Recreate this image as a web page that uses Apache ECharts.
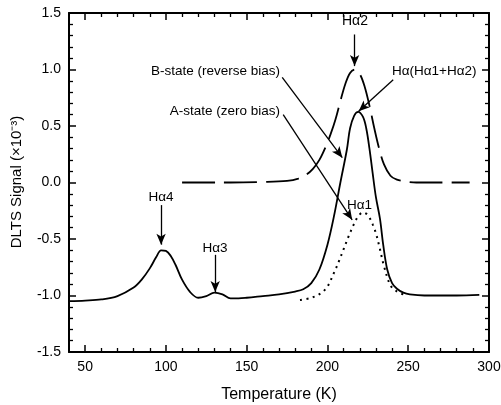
<!DOCTYPE html>
<html>
<head>
<meta charset="utf-8">
<script src="https://cdn.jsdelivr.net/npm/echarts@6/dist/echarts.min.js"></script>
<style>
  html, body { margin: 0; padding: 0; background: #fff; }
  .layer { position: absolute; left: 0; top: 0; width: 501px; height: 405px; }
  #frame { pointer-events: none; }
</style>
</head>
<body>
<div id="plot" class="layer"></div>
<div id="frame" class="layer"></div>
<script>
// DLTS spectra: temperature (K) vs signal (x10^-3)

// B-state (reverse bias), solid line
const bStateT = [40, 50, 60, 70, 80, 85, 90, 94, 97, 100, 103, 106, 110, 115, 120, 125, 130, 135, 140, 145,
  150, 160, 170, 180, 185, 190, 195, 200, 204, 208, 212, 214, 216.5, 219, 222, 224, 226, 228, 230, 232.5,
  234.5, 237, 240, 243, 247, 251, 260, 270, 280, 294];
const bStateV = [-1.05, -1.045, -1.035, -1.005, -0.93, -0.86, -0.76, -0.66, -0.60, -0.605, -0.65, -0.73, -0.86, -0.97,
  -1.02, -1.005, -0.975, -0.99, -1.025, -1.025, -1.02, -1.005, -0.99, -0.965, -0.945, -0.89, -0.77, -0.55, -0.30,
  0.0, 0.29, 0.48, 0.59, 0.625, 0.58, 0.48, 0.30, 0.08, -0.13, -0.32, -0.55, -0.77, -0.89, -0.94, -0.975, -0.99,
  -1.0, -1.0, -1.0, -0.995];

// A-state (zero bias), dotted line
const aStateT = [183, 190, 196, 200, 204, 207, 210, 213, 216, 219, 222, 225, 228, 230, 232, 235, 239, 243, 247];
const aStateV = [-1.04, -1.02, -0.98, -0.92, -0.80, -0.70, -0.59, -0.48, -0.38, -0.30, -0.265, -0.29, -0.37, -0.45,
  -0.56, -0.74, -0.91, -0.965, -0.99];

// H-alpha2 component, dashed line
const hAlpha2T = [110, 120, 140, 160, 175, 182, 187, 191, 195, 199, 202, 205, 208, 211, 214, 217, 220, 223, 226,
  229, 232, 235, 239, 243, 248, 255, 270, 288];
const hAlpha2V = [0.0, 0.0, 0.0, 0.005, 0.015, 0.035, 0.07, 0.12, 0.2, 0.32, 0.43, 0.56, 0.72, 0.87, 0.97, 1.0,
  0.96, 0.85, 0.68, 0.48, 0.3, 0.16, 0.06, 0.025, 0.01, 0.0, 0.0, 0.0];

// Axis ticks
const xMajorTicks = [50, 100, 150, 200, 250, 300];
const xMinorTicks = [60, 70, 80, 90, 110, 120, 130, 140, 160, 170, 180, 190, 210, 220, 230, 240, 260, 270, 280, 290];

// Annotation arrows in data units: [fromT, fromV, toT, toV]
const arrowLines = [
  [216.8, 1.31, 216.8, 1.03],    // H-alpha2
  [240.7, 0.91, 219.3, 0.63],    // H-alpha(H-alpha1 + H-alpha2)
  [172.0, 0.93, 209.2, 0.22],    // B-state
  [172.6, 0.60, 215.3, -0.33],   // A-state
  [97.0, -0.20, 97.0, -0.55],    // H-alpha4
  [130.5, -0.64, 130.5, -0.97]   // H-alpha3
];

const FONT = "'Liberation Sans', Arial, Helvetica, sans-serif";
const INK = '#000';
const GRID = { left: 69, right: 12, top: 13, bottom: 53, outerBoundsMode: 'none' };

const zip = (xs, ys) => xs.map((x, i) => [x, ys[i]]);

// ---- Curves, arrows and annotation text (lower layer) ----
function hiddenX() {
  return { type: 'value', min: 40, max: 300, interval: 10,
    axisLine: { show: false, onZero: false }, axisTick: { show: false },
    axisLabel: { show: false }, splitLine: { show: false } };
}
function hiddenY() {
  return { type: 'value', min: -1.5, max: 1.5, interval: 0.5,
    axisLine: { show: false, onZero: false }, axisTick: { show: false },
    axisLabel: { show: false }, splitLine: { show: false } };
}

const plot = echarts.init(document.getElementById('plot'), null, { renderer: 'canvas' });
plot.setOption({
  animation: false,
  backgroundColor: '#fff',
  grid: Object.assign({}, GRID),
  xAxis: hiddenX(),
  yAxis: hiddenY(),
  series: [
    {
      name: 'B-state (reverse bias)', type: 'line',
      data: zip(bStateT, bStateV), smooth: 0.35, showSymbol: false,
      lineStyle: { color: INK, width: 1.8 },
      markLine: {
        silent: true, symbol: ['none', 'arrow'], symbolSize: [7, 11],
        label: { show: false },
        lineStyle: { color: INK, width: 1.3, type: 'solid' },
        data: arrowLines.map(a => [{ coord: [a[0], a[1]] }, { coord: [a[2], a[3]] }])
      }
    },
    {
      name: 'A-state (zero bias)', type: 'line',
      data: zip(aStateT, aStateV), smooth: 0.35, showSymbol: false,
      lineStyle: { color: INK, width: 2, type: [2, 4.5] }
    },
    {
      name: 'Hα2', type: 'line',
      data: zip(hAlpha2T, hAlpha2V), smooth: 0.35, showSymbol: false,
      lineStyle: { color: INK, width: 1.8, type: [33, 9] }
    }
  ],
  graphic: [
    { type: 'text', x: 17, y: 182, rotation: Math.PI / 2,
      style: { text: 'DLTS Signal (×10⁻³)', font: `15px ${FONT}`, fill: INK, textAlign: 'center', textVerticalAlign: 'middle' } },
    { type: 'text', x: 355, y: 21, style: { text: 'Hα2', font: `14px ${FONT}`, fill: INK, textAlign: 'center', textVerticalAlign: 'middle' } },
    { type: 'text', x: 392, y: 71, style: { text: 'Hα(Hα1+Hα2)', font: `13.5px ${FONT}`, fill: INK, textAlign: 'left', textVerticalAlign: 'middle' } },
    { type: 'text', x: 280, y: 71, style: { text: 'B-state (reverse bias)', font: `13.5px ${FONT}`, fill: INK, textAlign: 'right', textVerticalAlign: 'middle' } },
    { type: 'text', x: 280, y: 111, style: { text: 'A-state (zero bias)', font: `13.5px ${FONT}`, fill: INK, textAlign: 'right', textVerticalAlign: 'middle' } },
    { type: 'text', x: 347, y: 205, style: { text: 'Hα1', font: `13.5px ${FONT}`, fill: INK, textAlign: 'left', textVerticalAlign: 'middle' } },
    { type: 'text', x: 161, y: 197, style: { text: 'Hα4', font: `13.5px ${FONT}`, fill: INK, textAlign: 'center', textVerticalAlign: 'middle' } },
    { type: 'text', x: 215, y: 248, style: { text: 'Hα3', font: `13.5px ${FONT}`, fill: INK, textAlign: 'center', textVerticalAlign: 'middle' } }
  ]
});

// ---- Box frame, ticks and tick labels (upper, transparent layer) ----
function xAxisDef(position, showLine, ticks, tickLen, extra) {
  return Object.assign({
    type: 'value', min: 40, max: 300, interval: 10, position: position,
    splitLine: { show: false },
    axisLine: { show: showLine, onZero: false, lineStyle: { color: INK, width: 2 } },
    axisTick: { show: true, inside: true, length: tickLen, customValues: ticks.slice(),
      lineStyle: { color: INK, width: tickLen > 5 ? 1.5 : 1.3 } },
    axisLabel: { show: false }
  }, extra || {});
}
function yAxisDef(position, extra) {
  return Object.assign({
    type: 'value', min: -1.5, max: 1.5, interval: 0.5, position: position,
    splitLine: { show: false },
    axisLine: { show: true, onZero: false, lineStyle: { color: INK, width: 2 } },
    axisTick: { show: true, inside: true, length: 7, lineStyle: { color: INK, width: 1.5 } },
    minorTick: { show: true, splitNumber: 5, length: 4, lineStyle: { color: INK, width: 1.3 } },
    axisLabel: { show: false }
  }, extra || {});
}

const frame = echarts.init(document.getElementById('frame'), null, { renderer: 'canvas' });
frame.setOption({
  animation: false,
  backgroundColor: 'rgba(0,0,0,0)',
  grid: Object.assign({}, GRID),
  xAxis: [
    xAxisDef('bottom', true, xMajorTicks, 7, {
      axisLabel: { show: true, customValues: xMajorTicks.slice(), margin: 8, color: INK, fontFamily: FONT, fontSize: 14 },
      name: 'Temperature (K)', nameLocation: 'middle', nameGap: 35,
      nameTextStyle: { color: INK, fontFamily: FONT, fontSize: 16 }
    }),
    xAxisDef('bottom', false, xMinorTicks, 4),
    xAxisDef('top', true, xMajorTicks, 7),
    xAxisDef('top', false, xMinorTicks, 4)
  ],
  yAxis: [
    yAxisDef('left', {
      axisLabel: {
        show: true, margin: 8, color: INK, fontFamily: FONT, fontSize: 14,
        formatter: v => v.toFixed(1)
      }
    }),
    yAxisDef('right')
  ],
  series: [{ type: 'line', data: [], showSymbol: false }]
});
</script>
</body>
</html>
